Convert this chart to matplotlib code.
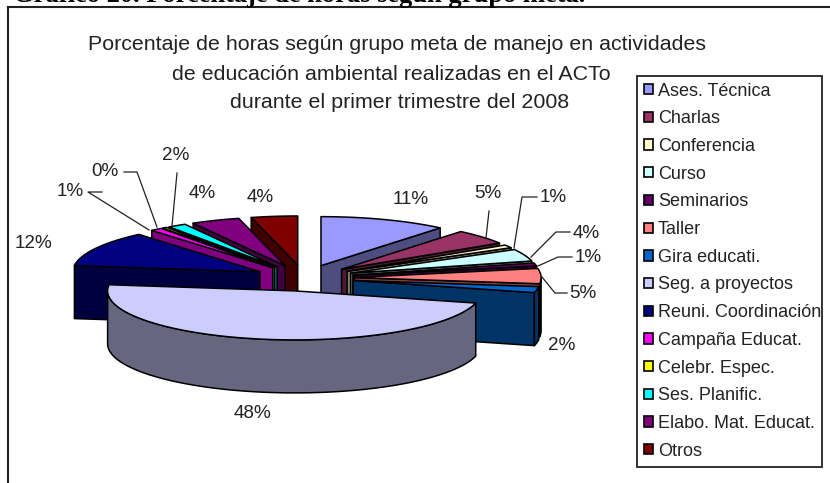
import numpy as np
import matplotlib
matplotlib.use("Agg")
import matplotlib.pyplot as plt
from matplotlib.patches import Patch, Rectangle

categories = ["Ases. Técnica", "Charlas", "Conferencia", "Curso", "Seminarios", "Taller",
              "Gira educati.", "Seg. a proyectos", "Reuni. Coordinación", "Campaña Educat.",
              "Celebr. Espec.", "Ses. Planific.", "Elabo. Mat. Educat.", "Otros"]
values = [11, 5, 1, 4, 1, 5, 2, 48, 11.8, 1, 0.4, 1.6, 4.2, 4]
labels = ["11%", "5%", "1%", "4%", "1%", "5%", "2%", "48%", "12%", "1%", "0%", "2%", "4%", "4%"]
colors = ["#9999FF", "#993366", "#FFFFCC", "#CCFFFF", "#660066", "#FF8080", "#0066CC",
          "#CCCCFF", "#000080", "#FF00FF", "#FFFF00", "#00FFFF", "#800080", "#800000"]
label_xy = [(411, 200), (488, 193), (553, 197), (586, 233), (588, 257), (583, 293), (562, 345),
            (252, 413), (33, 243), (70, 192), (105, 172), (176, 156), (202, 193), (260, 197)]
leaders = {1: [(489, 211), (486, 238)],
           2: [(537, 197), (522, 197), (514, 248)],
           3: [(570, 232), (556, 232), (531, 257)],
           4: [(572, 257), (558, 257), (538, 266)],
           5: [(567, 293), (555, 293), (542, 277)],
           9: [(102, 192), (88, 192), (149, 230)],
           10: [(124, 172), (137, 172), (157, 227)],
           11: [(177, 173), (172, 226)]}
title_lines = [("Porcentaje de horas según grupo meta de manejo en actividades", 397, 45),
               ("de educación ambiental realizadas en el ACTo", 391, 74),
               ("durante el primer trimestre del 2008", 400, 102)]
heading = "Gráfico 20. Porcentaje de horas según grupo meta."

CX, CY, RX, RY, DEPTH, EXPLODE = 304, 278, 187, 49, 53, 0.268

fig = plt.figure(figsize=(8.3, 4.83), dpi=100)
ax = fig.add_axes([0, 0, 1, 1])
ax.set_xlim(0, 830)
ax.set_ylim(483, 0)
ax.axis("off")
sans = "Liberation Sans"

# chart frame and heading
ax.plot([8, 8], [483, 7], color="#222222", lw=1.5, solid_capstyle="projecting")
ax.plot([8, 830], [7, 7], color="#222222", lw=1.5, solid_capstyle="projecting")
ax.text(13, 2, heading, family="Liberation Serif", weight="bold", fontsize=19.1,
        ha="left", va="baseline", clip_on=False)
for s, x, y in title_lines:
    ax.text(x, y, s, family=sans, fontsize=15.4, color="#222222", ha="center", va="center")


def shade(hex_color):
    return tuple(0.5 * c for c in matplotlib.colors.to_rgb(hex_color))


def point(ox, oy, theta):
    return ox + RX * np.sin(theta), oy - RY * np.cos(theta)


total = sum(values)
edges = np.cumsum([0] + list(values)) / total * 2 * np.pi
slices = []
for i, c in enumerate(colors):
    a0, a1 = edges[i], edges[i + 1]
    mid = (a0 + a1) / 2
    ox = CX + EXPLODE * RX * np.sin(mid)
    oy = CY - EXPLODE * RY * np.cos(mid)
    slices.append((oy, i, a0, a1, ox, c))

kw = dict(edgecolor="black", linewidth=1.1, joinstyle="round")
for oy, i, a0, a1, ox, c in sorted(slices, key=lambda s: s[0]):
    side = shade(c)
    t = np.linspace(a0, a1, max(3, int((a1 - a0) * 40)))
    px, py = point(ox, oy, t)
    # radial walls that face the viewer
    for a, sign in ((a0, -1), (a1, 1)):
        if sign * np.sin(a) > 1e-6:
            ex, ey = point(ox, oy, a)
            ax.fill([ox, ex, ex, ox], [oy, ey, ey + DEPTH, oy + DEPTH], facecolor=side, **kw)
    # outer wall, front-facing part only
    tw = t[np.cos(t) <= 0.0]
    if len(tw) > 1:
        wx, wy = point(ox, oy, tw)
        ax.fill(np.r_[wx, wx[::-1]], np.r_[wy, wy[::-1] + DEPTH], facecolor=side, **kw)
    # top face
    ax.fill(np.r_[ox, px], np.r_[oy, py], facecolor=c, **kw)

for s, (x, y) in zip(labels, label_xy):
    ax.text(x, y, s, family=sans, fontsize=13.6, color="#222222", ha="center", va="center")
for pts in leaders.values():
    xs, ys = zip(*pts)
    ax.plot(xs, ys, color="#222222", lw=0.9)

# legend box (frame sized to the reference, since its side paddings are unequal)
ax.add_patch(Rectangle((637, 76), 185, 391, facecolor="white", edgecolor="#222222", linewidth=1.3))
handles = [Patch(facecolor=c, edgecolor="black", linewidth=1.2) for c in colors]
leg = ax.legend(handles, categories, loc="upper left", bbox_to_anchor=(636 / 830, 1 - 75 / 483),
                prop={"family": sans, "size": 12.95}, frameon=False,
                labelspacing=0.595, handlelength=0.5, handleheight=0.5,
                handletextpad=0.3, borderpad=0.42, borderaxespad=0, labelcolor="#222222")

fig.savefig("out.png", dpi=100, facecolor="white")
